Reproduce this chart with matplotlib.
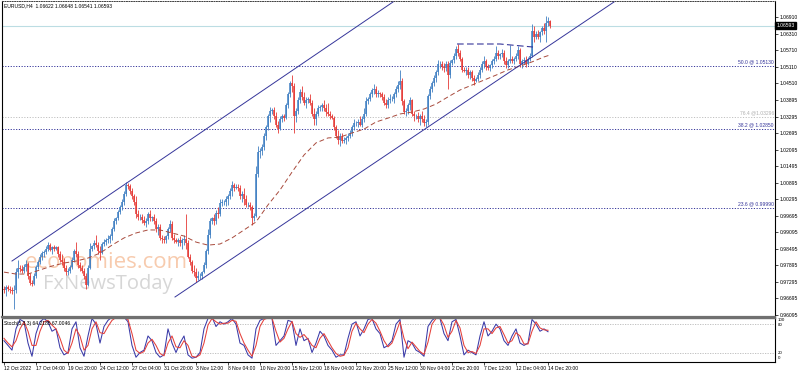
import matplotlib
matplotlib.use("Agg")
import matplotlib.pyplot as plt
import numpy as np

# ---------------- data ----------------
header_text = "EURUSD,H4  1.06622 1.06648 1.06541 1.06593"
stoch_text = "Stoch(5,3,3) 64.2185 67.0046"
bid_price = 1.06593
bid_label = "1.06593"

time_label_bars = [0, 16, 32, 48, 64, 80, 96, 112, 128, 144, 160, 176, 192, 208, 224, 240, 256, 272]
time_labels = ["12 Oct 2022", "17 Oct 04:00", "19 Oct 20:00", "24 Oct 12:00", "27 Oct 04:00",
               "31 Oct 20:00", "3 Nov 12:00", "8 Nov 04:00", "10 Nov 20:00", "15 Nov 12:00",
               "18 Nov 04:00", "22 Nov 20:00", "25 Nov 12:00", "30 Nov 04:00", "2 Dec 20:00",
               "7 Dec 12:00", "12 Dec 04:00", "14 Dec 20:00"]

price_ticks = [1.06910, 1.06310, 1.05710, 1.05110, 1.04510, 1.03895, 1.03295, 1.02695, 1.02095,
               1.01495, 1.00895, 1.00295, 0.99695, 0.99095, 0.98495, 0.97895, 0.97295, 0.96695, 0.96095]
price_tick_labels = ["%.5f" % v for v in price_ticks]

# H4 candles, prices in units of 0.0001
opens = [9705,9700,9710,
 9705,9700,9695,9700,9765,9780, 9778,9770,9785,9795,9750,9725, 9722,9750,9785,9800,9820,9835,
 9838,9850,9865,9845,9855,9848, 9855,9830,9810,9800,9780,9765, 9770,9785,9810,9840,9830,9790,
 9780,9770,9750,9720,9780,9850, 9860,9870,9865,9840,9835,9868, 9875,9880,9885,9895,9920,9950,
 9962,9985,10000,10020,10050,10080, 10078,10060,10040,10020,9975,9965, 9965,9955,9945,9950,9975,9960,
 9965,9950,9920,9930,9890,9885, 9880,9895,9920,9940,9890,9880, 9875,9880,9870,9880,9885,9870,
 9820,9800,9770,9765,9745,9750, 9750,9765,9790,9840,9900,9950, 9960,9950,9980,9975,10015,10020,
 10020,10030,10040,10060,10080,10070, 10075,10070,10040,10050,10030,10010, 10010,10000,9960,9970,10120,10200,
 10205,10220,10260,10290,10330,10350, 10355,10330,10300,10285,10320,10330, 10325,10370,10410,10450,10440,10330,
 10350,10390,10420,10400,10380,10390, 10395,10380,10340,10320,10340,10360, 10365,10370,10360,10345,10340,10330,
 10325,10290,10260,10245,10260,10240, 10245,10250,10260,10270,10290,10305, 10305,10310,10300,10320,10340,10385,
 10395,10410,10425,10430,10410,10415, 10410,10400,10380,10370,10390,10395, 10395,10410,10430,10445,10460,10385,
 10345,10350,10370,10390,10340,10330, 10330,10320,10330,10320,10305,10310, 10405,10430,10450,10470,10490,10520,
 10522,10510,10505,10520,10480,10525, 10535,10550,10575,10560,10540,10500, 10495,10500,10480,10490,10470,10460,
 10465,10480,10500,10520,10530,10510, 10505,10515,10530,10540,10560,10550, 10555,10560,10530,10515,10530,10540,
 10530,10540,10550,10570,10520,10530, 10535,10520,10540,10550,10640,10620, 10630,10620,10635,10650,10640,10670,
 10675]
highs = [9715,9720,9720,
 9715,9710,9720,9780,9808,9790, 9790,9795,9809,9800,9760,9735, 9760,9790,9810,9830,9841,9845,
 9860,9876,9870,9860,9865,9860, 9860,9840,9830,9815,9790,9780, 9790,9820,9850,9875,9840,9800,
 9790,9780,9760,9790,9870,9865, 9880,9900,9875,9860,9875,9885, 9890,9900,9905,9930,9960,9965,
 9990,10010,10030,10060,10093,10090, 10085,10070,10050,10040,9990,9975, 9975,9970,9960,9985,9990,9970,
 9975,9960,9940,9940,9900,9895, 9900,9930,9954,9950,9905,9890, 9890,9895,9890,9900,9977,9880,
 9830,9810,9790,9780,9770,9760, 9770,9800,9850,9920,9960,9965, 9975,9990,10000,10030,10030,10025,
 10040,10050,10070,10096,10090,10085, 10085,10080,10060,10070,10045,10020, 10020,10010,9980,10150,10222,10215,
 10230,10270,10300,10340,10365,10360, 10365,10345,10315,10330,10340,10340, 10380,10420,10460,10481,10450,10360,
 10400,10430,10440,10420,10400,10400, 10410,10390,10360,10350,10370,10370, 10380,10390,10375,10380,10350,10340,
 10330,10300,10280,10270,10270,10255, 10260,10270,10280,10300,10320,10315, 10320,10330,10330,10360,10400,10400,
 10420,10435,10448,10440,10425,10420, 10420,10410,10395,10400,10410,10405, 10420,10440,10460,10497,10470,10395,
 10360,10380,10400,10395,10350,10340, 10345,10340,10350,10335,10320,10410, 10440,10460,10480,10500,10535,10530,
 10530,10525,10530,10530,10535,10540, 10560,10585,10594,10570,10545,10510, 10510,10510,10500,10500,10480,10475,
 10490,10510,10530,10550,10540,10520, 10520,10540,10550,10585,10570,10560, 10575,10570,10545,10540,10590,10550,
 10545,10560,10585,10580,10540,10545, 10550,10545,10560,10665,10660,10640, 10645,10640,10660,10670,10695,10690,
 10680]
lows = [9690,9680,9695,
 9690,9685,9632,9690,9745,9765, 9760,9760,9770,9740,9720,9715, 9720,9745,9775,9795,9810,9820,
 9830,9840,9840,9830,9840,9845, 9820,9800,9790,9770,9755,9755, 9760,9775,9800,9820,9780,9770,
 9760,9740,9705,9715,9775,9840, 9850,9855,9830,9810,9830,9860, 9865,9870,9870,9880,9915,9940,
 9955,9975,9990,10010,10040,10065, 10050,10030,10010,9960,9955,9955, 9945,9935,9930,9940,9950,9950,
 9940,9910,9900,9880,9870,9870, 9870,9885,9910,9880,9870,9870, 9860,9860,9850,9865,9850,9815,
 9790,9760,9750,9730,9735,9740, 9740,9760,9780,9830,9890,9940, 9935,9940,9960,9970,10005,10010,
 10005,10010,10030,10040,10060,10065, 10060,10030,10020,10010,10000,10000, 9990,9935,9950,9965,10110,10180,
 10190,10210,10245,10280,10310,10340, 10320,10290,10270,10280,10310,10315, 10320,10360,10400,10420,10270,10310,
 10340,10380,10390,10370,10360,10380, 10370,10330,10300,10300,10330,10350, 10350,10350,10330,10330,10320,10320,
 10280,10250,10230,10223,10235,10235, 10230,10240,10250,10260,10280,10295, 10290,10295,10290,10310,10330,10375,
 10385,10400,10410,10400,10400,10400, 10390,10370,10360,10360,10380,10385, 10380,10400,10420,10430,10370,10340,
 10330,10340,10355,10330,10315,10320, 10310,10300,10310,10295,10290,10300, 10395,10420,10440,10455,10480,10505,
 10500,10490,10495,10430,10470,10515, 10525,10540,10550,10530,10490,10490, 10480,10470,10465,10460,10443,10455,
 10460,10470,10490,10505,10500,10500, 10495,10505,10520,10530,10540,10540, 10545,10520,10505,10505,10525,10525,
 10520,10530,10540,10510,10505,10520, 10510,10515,10530,10545,10600,10610, 10610,10600,10625,10630,10600,10660,
 10650]
closes = [9700,9710,9705,
 9700,9695,9700,9765,9780,9778, 9770,9785,9795,9750,9725,9722, 9750,9785,9800,9820,9835,9838,
 9850,9865,9845,9855,9848,9855, 9830,9810,9800,9780,9765,9770, 9785,9810,9840,9830,9790,9780,
 9770,9750,9720,9780,9850,9860, 9870,9865,9840,9835,9868,9875, 9880,9885,9895,9920,9950,9962,
 9985,10000,10020,10050,10080,10078, 10060,10040,10020,9975,9965,9965, 9955,9945,9950,9975,9960,9965,
 9950,9920,9930,9890,9885,9880, 9895,9920,9940,9890,9880,9875, 9880,9870,9880,9885,9870,9820,
 9800,9770,9765,9745,9750,9750, 9765,9790,9840,9900,9950,9960, 9950,9980,9975,10015,10020,10020,
 10030,10040,10060,10080,10070,10075, 10070,10040,10050,10030,10010,10010, 10000,9960,9970,10120,10200,10205,
 10220,10260,10290,10330,10350,10355, 10330,10300,10285,10320,10330,10325, 10370,10410,10450,10440,10330,10350,
 10390,10420,10400,10380,10390,10395, 10380,10340,10320,10340,10360,10365, 10370,10360,10345,10340,10330,10325,
 10290,10260,10245,10260,10240,10245, 10250,10260,10270,10290,10305,10305, 10310,10300,10320,10340,10385,10395,
 10410,10425,10430,10410,10415,10410, 10400,10380,10370,10390,10395,10395, 10410,10430,10445,10460,10385,10345,
 10350,10370,10390,10340,10330,10330, 10320,10330,10320,10305,10310,10405, 10430,10450,10470,10490,10520,10522,
 10510,10505,10520,10480,10525,10535, 10550,10575,10560,10540,10500,10495, 10500,10480,10490,10470,10460,10465,
 10480,10500,10520,10530,10510,10505, 10515,10530,10540,10560,10550,10555, 10560,10530,10515,10530,10540,10530,
 10540,10550,10570,10520,10530,10535, 10520,10540,10550,10640,10620,10630, 10620,10635,10650,10640,10670,10675,
 10659]

# moving average (dashed), sampled every 6 bars
ma_bars = [0,6,12,18,24,30,36,42,48,54,60,66,72,78,84,90,96,102,108,114,120,126,132,138,144,150,
           156,162,168,174,180,186,192,198,204,210,216,222,228,234,240,246,252,258,264,270,273]
ma_vals = [0.9765,0.9758,0.9758,0.9773,0.9787,0.9798,0.9805,0.9816,0.9834,0.9863,0.9889,0.9907,
           0.9918,0.9918,0.9907,0.9896,0.9874,0.9863,0.9867,0.9889,0.9918,0.9947,1.0009,1.0063,
           1.0128,1.0190,1.0234,1.0252,1.0255,1.0270,1.0284,1.0310,1.0324,1.0339,1.0346,1.0357,
           1.0375,1.0401,1.0426,1.0444,1.0462,1.0480,1.0499,1.0513,1.0528,1.0546,1.0553]

# stochastic (5,3,3), every 2 bars
stoch_bars = list(range(0, 274, 2))
stoch_k = [45,35,25,70,90,85,40,12,60,85,92,85,65,70,30,15,20,70,85,30,12,55,92,80,40,75,88,95,95,92,
           95,85,35,10,20,25,55,45,20,10,15,70,40,20,40,55,15,8,10,20,70,92,95,75,85,80,85,92,80,40,
           35,15,8,70,88,92,95,92,35,45,55,88,85,35,70,45,50,20,40,65,55,35,25,10,15,15,50,80,85,55,
           70,90,92,70,60,30,35,45,80,90,10,45,40,25,20,12,75,88,95,92,60,45,85,90,55,15,25,20,15,55,
           85,55,65,80,70,45,35,55,70,40,35,40,90,80,65,70,64]
stoch_d = [50,40,32,45,70,85,65,35,35,65,85,88,78,70,50,25,18,40,70,55,25,35,70,85,62,60,75,88,94,94,
           93,90,60,25,18,22,40,48,35,18,13,40,55,32,30,45,35,12,10,15,40,78,92,85,80,82,82,88,86,60,
           40,25,12,35,75,90,93,93,65,42,50,70,86,60,52,58,48,35,30,50,60,45,30,18,12,14,30,65,82,70,
           62,80,90,82,65,45,32,40,62,85,50,28,42,32,22,16,42,80,92,93,78,52,65,88,72,35,20,22,18,35,
           70,70,60,72,75,58,40,45,62,55,38,38,65,85,72,68,67]
stoch_levels = [80, 20]

# drawn objects (bar index, price)
upper_channel = [(4, 0.98053), (194.5, 1.07455)]
lower_channel = [(85.5, 0.96747), (305, 1.07455)]
flag_line = [(226.5, 1.0593), (248, 1.0593), (264.5, 1.0582)]
fib_levels = [1.05130, 1.03280, 1.02845, 0.99977]
fib_labels = ["50.0 @ 1.05130", "76.4 @1.03296", "38.2 @ 1.02850", "23.6 @ 0.99990"]
fib_is_grey = [False, True, False, False]

# ---------------- style ----------------
W, H = 798, 372
BULL = "#3f7fc2"
BEAR = "#e53935"
NAVY = "#35359a"
FS = 3.6
FONT = "Liberation Sans"
plt.rcParams['font.family'] = [FONT, 'DejaVu Sans']

fig = plt.figure(figsize=(W / 100, H / 100), dpi=100)
fig.patch.set_facecolor("white")

def px_axes(l, t, r, b):
    return fig.add_axes([l / W, 1 - b / H, (r - l) / W, (b - t) / H])

ax = px_axes(2, 1, 775, 317)
ax2 = px_axes(2, 318, 775, 362)

PX_PER_UNIT = 2755.0
ylo = 1.06910 - (317 - 17) / PX_PER_UNIT
yhi = 1.06910 + (17 - 1) / PX_PER_UNIT
XL = (-1, 385.5)
ax.set_xlim(*XL)
ax.set_ylim(ylo, yhi)

def ypx_to_price(ypx):
    return 1.06910 - (ypx - 17) / PX_PER_UNIT

def xpx_to_bar(xpx):
    return (xpx - 4) / 2.0

o = np.array(opens) / 1e4
h = np.array(highs) / 1e4
l = np.array(lows) / 1e4
c = np.array(closes) / 1e4
idx = np.arange(len(c))
cols = np.where(c >= o, BULL, BEAR)

# fib / horizontal levels
for lev, lab, grey in zip(fib_levels, fib_labels, fib_is_grey):
    col = "#c0c0c0" if grey else NAVY
    ax.axhline(lev, color=col, lw=0.7, ls=(0, (1.2, 1.6)), zorder=1)
    ax.text(0.9985, lev + 0.0006, lab, transform=ax.get_yaxis_transform(), ha="right", va="bottom",
            fontsize=FS, color=("#b0b0b0" if grey else NAVY))
ax.axhline(bid_price, color="#bcdde3", lw=0.8, zorder=1)

# watermark
ax.text(xpx_to_bar(25), ypx_to_price(268), "economies.com", fontsize=16, color="#f6c2a0", alpha=0.85,
        family="Open Sans", ha="left", va="baseline", zorder=2)
ax.text(xpx_to_bar(43), ypx_to_price(288.5), "FxNewsToday", fontsize=14.5, color="#d2d2d2", alpha=0.9,
        family="Open Sans", ha="left", va="baseline", zorder=2)

# candles
ax.vlines(idx, l, h, colors=cols, lw=0.6, zorder=3)
ax.vlines(idx, np.minimum(o, c), np.maximum(o, c), colors=cols, lw=1.1, zorder=3)

# moving average
ax.plot(ma_bars, ma_vals, color="#a84a3c", lw=0.7, ls=(0, (5, 3)), zorder=4)

# trend lines
for line in (upper_channel, lower_channel):
    xs, ys = zip(*line)
    ax.plot(xs, ys, color=NAVY, lw=0.7, zorder=4)
fx, fy = zip(*flag_line)
ax.plot(fx, fy, color=NAVY, lw=0.8, ls=(0, (6, 3)), zorder=4)

# axes styling main
ax.set_xticks([])
ax.yaxis.tick_right()
ax.set_yticks(price_ticks, price_tick_labels)
ax.tick_params(axis="y", length=2, width=0.5, pad=1.2, labelsize=FS, colors="black")
for s in ("left", "right"):
    ax.spines[s].set_color("black"); ax.spines[s].set_linewidth(0.8)
ax.spines["top"].set_color("#404040"); ax.spines["top"].set_linestyle((0, (1, 1.5))); ax.spines["top"].set_linewidth(0.7)
ax.spines["bottom"].set_color("#707070"); ax.spines["bottom"].set_linewidth(1.6)

ax.text(1.002, bid_price, bid_label, transform=ax.get_yaxis_transform(), ha="left", va="center",
        fontsize=FS, color="white", bbox=dict(boxstyle="square,pad=0.25", fc="black", ec="black"), zorder=10)
ax.text(0.002, 0.993, header_text, transform=ax.transAxes, ha="left", va="top", fontsize=FS, color="black")

# stochastic panel
ax2.set_xlim(*XL)
ax2.set_ylim(-0.1, 93)
for lv in stoch_levels:
    ax2.axhline(lv, color="#b8b8b8", lw=0.6, ls=(0, (1.5, 1.5)))
ax2.plot(stoch_bars, stoch_k, color="#3a3aa8", lw=0.75)
ax2.plot(stoch_bars, stoch_d, color="#e5403a", lw=0.75)
ax2.text(0.002, 0.94, stoch_text, transform=ax2.transAxes, ha="left", va="top", fontsize=FS, color="black")
ax2.set_yticks([])
for val, ypx in (("100", 319.8), ("80", 324.6), ("20", 352.5), ("0", 357.8)):
    fig.text(778 / W, 1 - ypx / H, val, fontsize=3.2, ha="left", va="center", color="black")
ax2.set_xticks(time_label_bars, time_labels)
ax2.tick_params(axis="x", length=2, width=0.5, pad=0.8, labelsize=FS, colors="black")
for t in ax2.get_xticklabels():
    t.set_ha("left")
for s in ("left", "right", "bottom"):
    ax2.spines[s].set_color("black"); ax2.spines[s].set_linewidth(0.8)
ax2.spines["top"].set_color("#707070"); ax2.spines["top"].set_linewidth(1.0)

fig.savefig("out.png", dpi=100, facecolor="white")
